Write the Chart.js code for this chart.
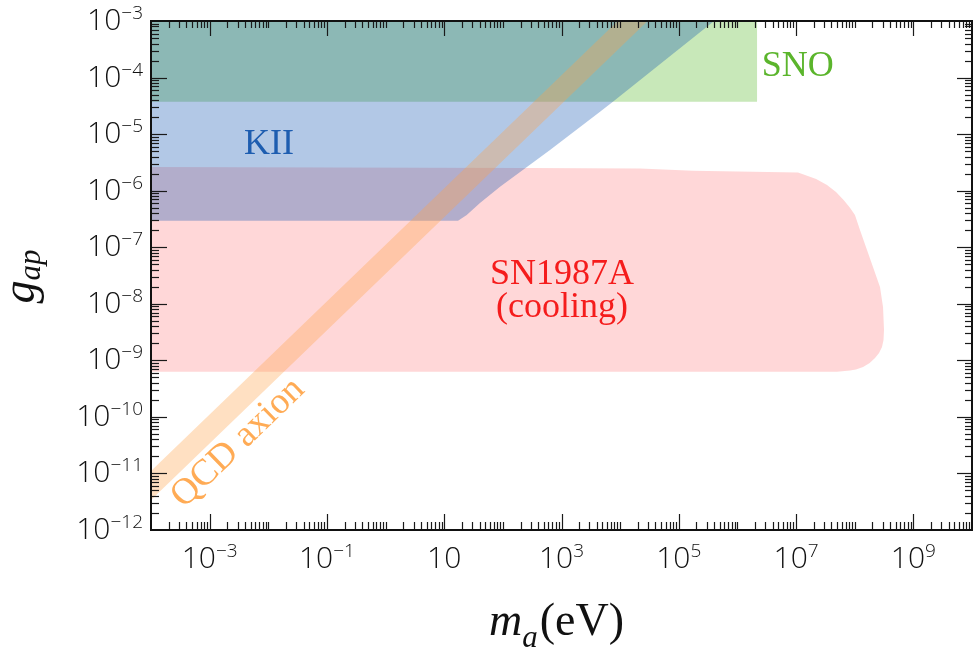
<!DOCTYPE html>
<html>
<head>
<meta charset="utf-8">
<script src="https://cdn.jsdelivr.net/npm/chart.js@4.4.1/dist/chart.umd.min.js"></script>
<style>
html,body{margin:0;padding:0;background:#fff;}
canvas{display:block;}
</style>
</head>
<body>
<canvas id="c" width="974" height="657"></canvas>
<script>
// ---------- data (axion mass m_a in eV, coupling g_ap) ----------
const snoMass      = [1e-4, 2.16e6, 2.16e6, 1e-4];
const snoCoupling  = [1e-3, 1e-3, 3.74e-5, 3.74e-5];

const kiiMass      = [1e-4, 4.0e5, 7.53e3, 4.54e3, 637, 89.5, 40.7, 24.2, 17.2, 1e-4];
const kiiCoupling  = [1e-3, 1e-3, 3.74e-5, 2.49e-5, 5.24e-6, 1.17e-6, 6.05e-7, 3.72e-7, 2.94e-7, 2.94e-7];

const sn1987aMass     = [1e-4, 290, 2.18e4, 1.75e5, 1.85e6, 1.08e7, 1.31e7, 2.2e7, 3.37e7, 4.8e7, 6.47e7, 8.3e7, 1.01e8, 1.23e8,
                         1.62e8, 2.05e8, 2.7e8, 3.04e8, 3.16e8, 3.1e8, 2.92e8, 2.6e8, 2.22e8, 1.8e8, 1.39e8, 1.05e8, 8.32e7, 5e7, 1e-4];
const sn1987aCoupling = [2.62e-6, 2.52e-6, 2.47e-6, 2.25e-6, 2.17e-6, 2.1e-6, 1.95e-6, 1.6e-6, 1.26e-6, 9.5e-7, 6.84e-7, 5.0e-7, 3.72e-7, 2.02e-7,
                         8.93e-8, 4.48e-8, 1.98e-8, 8.77e-9, 3.44e-9, 2.3e-9, 1.72e-9, 1.35e-9, 1.1e-9, 9.0e-10, 7.64e-10, 6.9e-10, 6.6e-10, 6.3e-10, 6.3e-10];

const qcdMass     = [1e-5, 1e5, 1e5, 1e-5];
const qcdCoupling = [1.1e-12, 1.1e-2, 3.4e-3, 3.4e-13];

// tick labels (exponents of 10)
const xLabelExponents = [-3, -1, 1, 3, 5, 7, 9];
const yLabelExponents = [-3, -4, -5, -6, -7, -8, -9, -10, -11, -12];

// ---------- helpers ----------
const toPts = (ms, gs) => ms.map((m, i) => ({x: m, y: gs[i]}));

function logTickValues(scale) {
  const lo = Math.round(Math.log10(scale.min)), hi = Math.round(Math.log10(scale.max));
  const t = [];
  for (let e = lo; e < hi; e++) {
    for (let k = 1; k < 10; k++) t.push({value: k * Math.pow(10, e), major: k === 1, exp: e});
  }
  t.push({value: Math.pow(10, hi), major: true, exp: hi});
  return t;
}

const TICK_FONT = '300 30px "Open Sans"';
const SUP_FONT = '300 19px "Open Sans"';
const SERIF = '"Liberation Serif"';

function drawPow(ctx, exp, x, y, align, rise) {
  const base = '10';
  const sup = exp === 1 ? '' : (exp < 0 ? '\u2212' + Math.abs(exp) : String(exp));
  ctx.font = TICK_FONT; const wb = ctx.measureText(base).width;
  ctx.font = SUP_FONT; const ws = sup ? ctx.measureText(sup).width : 0;
  const total = wb + ws;
  const left = align === 'right' ? x - total : x - total / 2;
  ctx.textAlign = 'left'; ctx.textBaseline = 'alphabetic';
  ctx.font = TICK_FONT; ctx.fillText(base, left, y);
  if (sup) { ctx.font = SUP_FONT; ctx.fillText(sup, left + wb, y - rise); }
}

function seg(ctx, x1, y1, x2, y2) { ctx.beginPath(); ctx.moveTo(x1, y1); ctx.lineTo(x2, y2); ctx.stroke(); }

const framePlugin = {
  id: 'frame',
  afterDatasetsDraw(chart) {
    const {ctx, chartArea: a} = chart;
    const xs = chart.scales.x, ys = chart.scales.y;
    ctx.save();

    // region labels
    ctx.textBaseline = 'alphabetic';
    ctx.font = '36px ' + SERIF;
    ctx.fillStyle = '#5bb52c'; ctx.textAlign = 'left';
    ctx.fillText('SNO', xs.getPixelForValue(2.6e6), ys.getPixelForValue(1.07e-4));
    ctx.fillStyle = '#1d5db0'; ctx.textAlign = 'center';
    ctx.fillText('KII', xs.getPixelForValue(1.03e-2), ys.getPixelForValue(4.4e-6));
    ctx.fillStyle = '#f51c1c';
    ctx.fillText('SN1987A', xs.getPixelForValue(1.02e3), ys.getPixelForValue(2.21e-8));
    ctx.fillText('(cooling)', xs.getPixelForValue(1.02e3), ys.getPixelForValue(5.9e-9));
    // QCD axion, rotated along the band
    const qx = xs.getPixelForValue(3.05e-3), qy = ys.getPixelForValue(3.46e-11);
    const ang = Math.atan2(ys.getPixelForValue(1e-2) - ys.getPixelForValue(1e-12),
                           xs.getPixelForValue(1e6) - xs.getPixelForValue(1e-4));
    ctx.save();
    ctx.translate(qx, qy); ctx.rotate(ang);
    ctx.fillStyle = '#ffab55'; ctx.textBaseline = 'middle'; ctx.font = '37px ' + SERIF;
    ctx.fillText('QCD axion', 0, 0);
    ctx.restore();

    // ticks (inward, on all four sides)
    ctx.strokeStyle = '#1a1a1a'; ctx.lineWidth = 1.2;
    logTickValues(xs).forEach(t => {
      const labeled = t.major && xLabelExponents.includes(t.exp);
      const px = Math.round(xs.getPixelForValue(t.value)) + 0.5;
      if (px < a.left + 1 || px > a.right - 1) return;
      seg(ctx, px, a.bottom, px, a.bottom - (labeled ? 16 : 8));
      seg(ctx, px, a.top, px, a.top + (labeled ? 15 : 7));
    });
    logTickValues(ys).forEach(t => {
      const py = Math.round(ys.getPixelForValue(t.value)) + 0.5;
      if (py < a.top + 1 || py > a.bottom - 1) return;
      seg(ctx, a.left, py, a.left + (t.major ? 16 : 8), py);
      seg(ctx, a.right, py, a.right - (t.major ? 15 : 7), py);
    });

    // frame
    ctx.lineWidth = 2; ctx.strokeStyle = '#111';
    ctx.strokeRect(a.left, a.top, a.right - a.left, a.bottom - a.top);

    // tick labels
    ctx.fillStyle = '#111';
    xLabelExponents.forEach(e => {
      drawPow(ctx, e, xs.getPixelForValue(Math.pow(10, e)), a.bottom + 38, 'center', 11.5);
    });
    yLabelExponents.forEach(e => {
      drawPow(ctx, e, a.left - 8, ys.getPixelForValue(Math.pow(10, e)) + 9, 'right', 11);
    });

    // x axis title: m_a(eV)
    const mainIt = 'italic 46px ' + SERIF, subIt = 'italic 31px ' + SERIF, mainUp = '46px ' + SERIF;
    ctx.textAlign = 'left'; ctx.textBaseline = 'alphabetic';
    ctx.font = mainIt; const w1 = ctx.measureText('m').width;
    ctx.font = subIt; const w2 = ctx.measureText('a').width;
    ctx.font = mainUp; const w3 = ctx.measureText('(eV)').width;
    const cx = (a.left + a.right) / 2 - 5;
    let sx = cx - (w1 + w2 + 2 + w3) / 2;
    const by = 635;
    ctx.font = mainIt; ctx.fillText('m', sx, by);
    ctx.font = subIt; ctx.fillText('a', sx + w1, by + 12);
    ctx.font = mainUp; ctx.fillText('(eV)', sx + w1 + w2 + 2, by);

    // y axis title: g_ap (rotated)
    ctx.save();
    ctx.translate(34, (a.top + a.bottom) / 2 + 1);
    ctx.rotate(-Math.PI / 2);
    ctx.font = mainIt; const g1 = ctx.measureText('g').width;
    ctx.font = subIt; const g2 = ctx.measureText('ap').width;
    const gx = -(g1 + g2) / 2;
    ctx.font = mainIt; ctx.fillText('g', gx, 0);
    ctx.font = subIt; ctx.fillText('ap', gx + g1, 6);
    ctx.restore();

    ctx.restore();
  }
};

const common = {showLine: true, fill: 'shape', borderWidth: 0, pointRadius: 0, pointHoverRadius: 0, tension: 0};

new Chart(document.getElementById('c'), {
  type: 'scatter',
  data: {
    datasets: [
      Object.assign({label: 'SN1987A (cooling)', data: toPts(sn1987aMass, sn1987aCoupling),
        backgroundColor: 'rgba(255,0,6,0.155)', borderColor: 'rgba(0,0,0,0)', order: 4}, common),
      Object.assign({label: 'SNO', data: toPts(snoMass, snoCoupling),
        backgroundColor: 'rgba(72,178,22,0.3)', borderColor: 'rgba(0,0,0,0)', order: 3}, common),
      Object.assign({label: 'KII', data: toPts(kiiMass, kiiCoupling),
        backgroundColor: 'rgba(0,72,172,0.3)', borderColor: 'rgba(0,0,0,0)', order: 2}, common),
      Object.assign({label: 'QCD axion', data: toPts(qcdMass, qcdCoupling),
        backgroundColor: 'rgba(255,162,70,0.33)', borderColor: 'rgba(0,0,0,0)', order: 1}, common)
    ]
  },
  options: {
    responsive: false,
    animation: false,
    devicePixelRatio: 1,
    layout: {padding: {left: 151, top: 21, right: 2, bottom: 127}},
    plugins: {legend: {display: false}, tooltip: {enabled: false}},
    scales: {
      x: {type: 'logarithmic', min: 1e-4, max: 1e10, display: false},
      y: {type: 'logarithmic', min: 1e-12, max: 1e-3, display: false}
    }
  },
  plugins: [framePlugin]
});
</script>
</body>
</html>
